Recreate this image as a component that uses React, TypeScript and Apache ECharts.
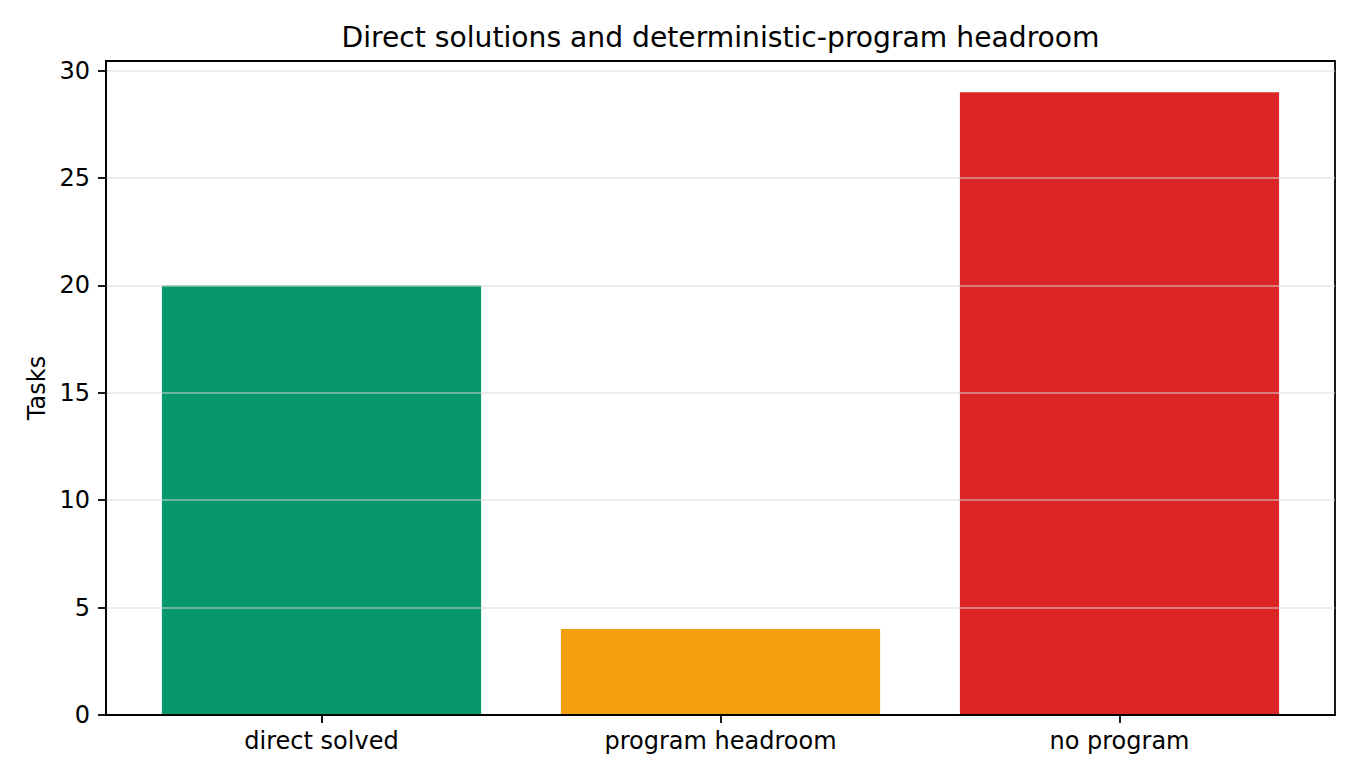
import React, { useEffect, useRef } from "react";
import * as echarts from "echarts";

const categories = ["direct solved", "program headroom", "no program"];
const taskCounts = [20, 4, 29];
const barColors = ["#06976a", "#f39f0e", "#dc2626"];
const yTicks = [0, 5, 10, 15, 20, 25, 30];
const titleText = "Direct solutions and deterministic-program headroom";
const yName = "Tasks";

const FONT = "DejaVu Sans";
const TICK_FONT = 24;

export default function App() {
  const ref = useRef<HTMLDivElement>(null);
  useEffect(() => {
    document.body.style.margin = "0";
    const chart = echarts.init(ref.current!, null, { renderer: "svg" });
    const yMax = 30.45;
    chart.setOption({
      animation: false,
      backgroundColor: "#ffffff",
      title: {
        text: titleText,
        left: 715.5,
        textAlign: "center",
        top: 18,
        textStyle: { fontFamily: FONT, fontSize: 28.2, fontWeight: "normal", color: "#000" },
      },
      grid: [
        {
          left: 106, right: 25, top: 61, bottom: 66,
          show: true, borderColor: "#000", borderWidth: 1.8, backgroundColor: "transparent",
          z: 0,
        },
        { left: 122, right: 41, top: 61, bottom: 66 },
      ],
      xAxis: [
        {
          gridIndex: 0, type: "value", min: 0, max: 1, z: 10,
          axisLine: { show: true, lineStyle: { color: "#000", width: 1.8 } },
          axisTick: { show: false }, axisLabel: { show: false }, splitLine: { show: false },
        },
        {
          gridIndex: 1, type: "category", data: categories,
          axisLine: { show: false },
          axisTick: { show: true, alignWithLabel: true, length: 8, lineStyle: { color: "#000", width: 1.8 } },
          axisLabel: { margin: 14, fontFamily: FONT, fontSize: TICK_FONT, color: "#000" },
          splitLine: { show: false },
        },
      ],
      yAxis: [
        {
          gridIndex: 0, type: "value", min: 0, max: yMax, z: 10,
          name: yName, nameLocation: "middle", nameGap: 57,
          nameTextStyle: { fontFamily: FONT, fontSize: TICK_FONT, color: "#000" },
          axisLine: { show: true, lineStyle: { color: "#000", width: 1.8 } },
          axisTick: { show: true, length: 8, lineStyle: { color: "#000", width: 1.8 }, customValues: yTicks },
          axisLabel: { margin: 16, fontFamily: FONT, fontSize: TICK_FONT, color: "#000", customValues: yTicks,
            formatter: (v: number) => (yTicks.indexOf(v) >= 0 ? String(v) : "") },
          splitLine: { show: true, lineStyle: { color: "rgba(215,215,215,0.65)", width: 1.6 } },
        },
        { gridIndex: 1, type: "value", min: 0, max: yMax, show: false },
      ],
      series: [
        {
          type: "bar", xAxisIndex: 1, yAxisIndex: 1, barWidth: "80%",
          data: taskCounts.map((v, i) => ({ value: v, itemStyle: { color: barColors[i] } })),
          z: 2,
        },
      ],
    });
    return () => chart.dispose();
  }, []);
  return <div ref={ref} style={{ width: 1360, height: 781 }} />;
}
